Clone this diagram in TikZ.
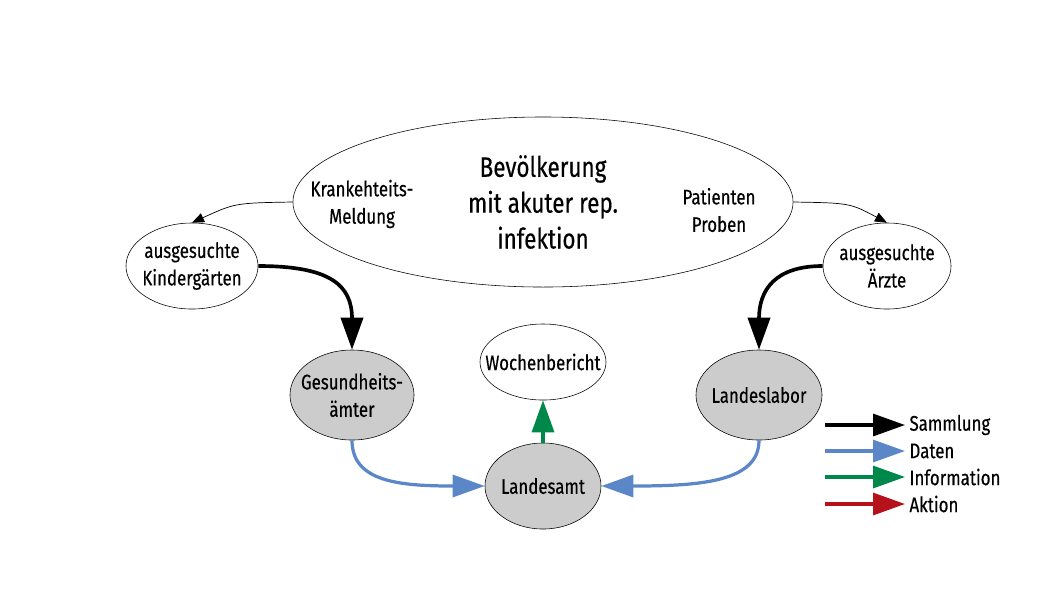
\documentclass[tikz,border=0pt]{standalone}
\usepackage{fontspec}
\setmainfont{Fira Sans}[FakeStretch=0.8,FakeBold=0.4]
\usetikzlibrary{arrows.meta}
\usetikzlibrary{shapes.geometric}
\definecolor{datblue}{HTML}{5B87C8}
\definecolor{infgreen}{HTML}{00874A}
\definecolor{aktred}{HTML}{B5121B}
\definecolor{amtgrey}{HTML}{CCCCCC}

\begin{document}
\begin{tikzpicture}[x=0.025cm,y=-0.025cm,
	    ell/.style={draw,ellipse,inner sep=-6pt,align=center,font=\fontsize{15}{19.5}\selectfont},
	    amt/.style={ell,fill=amtgrey},
	    lbl/.style={align=center,font=\fontsize{15}{19.5}\selectfont},
	    thinarr/.style={-{Triangle[length=0.3cm,width=0.24cm]},line width=0.5pt},
	    fatarr/.style={-{Triangle[length=0.8cm,width=0.55cm]},line width=2.6pt}]
	    \useasboundingbox (0,0) rectangle (1058,595);

	    \node[ell,minimum width=12.5cm,minimum height=4.25cm,font=\fontsize{20}{25.5}\selectfont] (bev) at (543,202) {Bevölkerung\\mit akuter rep.\\infektion};
	    \node[lbl] (krank) at (362,204) {Krankehteits-\\Meldung};
	    \node[lbl] (pat) at (719,210) {Patienten\\Proben};

	    \node[ell,minimum width=3.3cm,minimum height=2.15cm] (kind) at (192,266) {ausgesuchte\\Kindergärten};
	    \node[ell,minimum width=3.2cm,minimum height=2.15cm] (arzt) at (887,266) {ausgesuchte\\Ärzte};
	    \node[amt,minimum width=3.1cm,minimum height=2.25cm] (gesund) at (352,395) {Gesundheits-\\ämter};
	    \node[ell,inner sep=-12pt,minimum width=3.15cm,minimum height=1.9cm] (woche) at (543,362) {Wochenbericht};
	    \node[amt,minimum width=3.15cm,minimum height=2.25cm] (labor) at (759,395) {Landeslabor};
	    \node[amt,minimum width=2.9cm,minimum height=2.15cm] (landesamt) at (543,486) {Landesamt};

	    % Meldungen aus der Bevoelkerung
	    \draw[thinarr] (bev.west) .. controls (235,203) .. (kind.north);
	    \draw[thinarr] (bev.east) .. controls (850,203) .. (arzt.north);
	    % Sammlung
	    \draw[fatarr] (kind.east) .. controls (330,266) and (352,285) .. (gesund.north);
	    \draw[fatarr] (arzt.west) .. controls (775,266) and (759,290) .. (labor.north);
	    % Daten
	    \draw[fatarr,datblue,line width=2.3pt] (gesund.south) .. controls (352,482) and (400,486) .. (landesamt.west);
	    \draw[fatarr,datblue,line width=2.3pt] (labor.south) .. controls (759,482) and (700,486) .. (landesamt.east);
	    % Information
	    \draw[fatarr,infgreen,line width=2.3pt] (landesamt.north) -- (woche.south);

	    % Legende
	    \foreach \c/\t/\y in {black/Sammlung/425,datblue/Daten/451,infgreen/Information/477,aktred/Aktion/504} {
	        \coordinate (a\y) at (825,\y);
	        \coordinate (b\y) at (905,\y);
	        \draw[fatarr,\c,line width=2.3pt] (a\y) -- (b\y);
	        \node[lbl,anchor=west,inner sep=3pt] (t\y) at (b\y) {\t};
	    }
	    \end{tikzpicture}
\end{document}
